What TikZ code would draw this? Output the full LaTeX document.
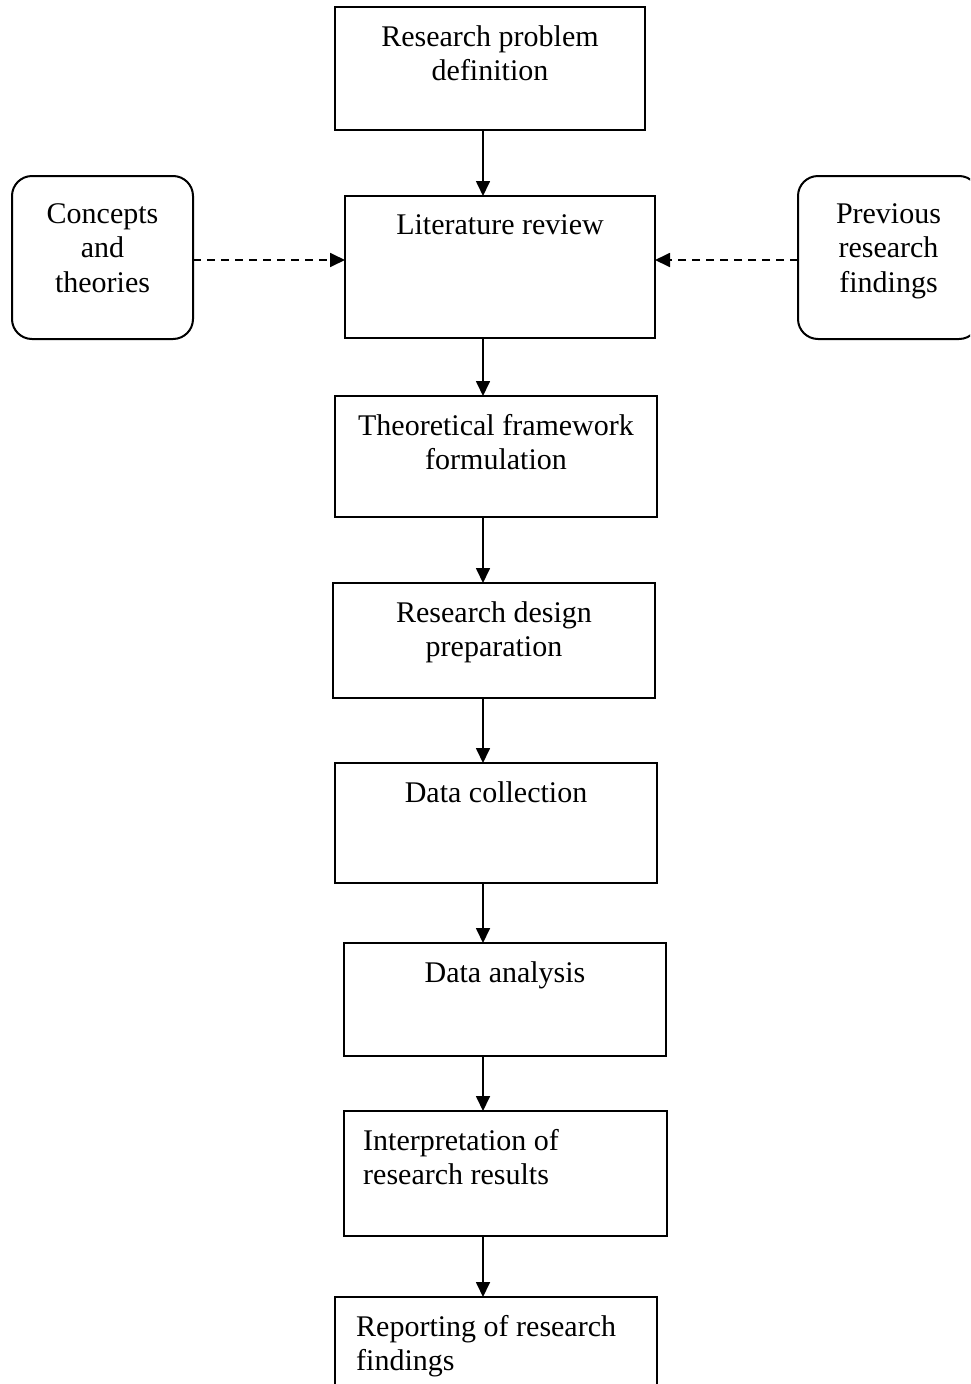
\documentclass[tikz,border=0pt]{standalone}
\usepackage{fontspec}
\setmainfont{Liberation Serif}
\usetikzlibrary{arrows.meta}
\begin{document}
\begin{tikzpicture}[x=1pt,y=-1pt]
            \tikzstyle{stepbox}=[draw,line width=2pt,inner sep=0,outer sep=0]
            \tikzstyle{sidebox}=[stepbox,rounded corners=20pt,minimum width=181pt,minimum height=163pt]
            \tikzstyle{txt}=[font=\fontsize{30}{34.5}\selectfont,inner sep=0,label distance=0pt]
            \tikzstyle{mid}=[txt,anchor=north,align=center,yshift=-18pt]
            \tikzstyle{lft}=[txt,anchor=north west,align=left,yshift=-18pt]
            \tikzstyle{flow}=[line width=1.7pt,-{Triangle[length=15pt,width=14pt]}]
            \tikzstyle{feed}=[flow,line width=1.8pt,dash pattern=on 8pt off 6pt]

            \useasboundingbox (0,0) rectangle (970,1384);
            \clip (0,0) rectangle (970,1384);
            \coordinate (axis) at (483,0);

            \node(def)[stepbox,minimum width=310pt,minimum height=123pt,label={[mid]north:Research problem\\definition}] at (490,68.5){};
            \node(lit)[stepbox,minimum width=310pt,minimum height=142pt,label={[mid]north:Literature review}] at (500,267){};
            \node(con)[sidebox,label={[mid,yshift=-9pt]north:Concepts\\and\\theories}] at (102.5,257.5){};
            \node(prev)[sidebox,label={[mid,yshift=-9pt]north:Previous\\research\\findings}] at (888.5,257.5){};
            \node(theo)[stepbox,minimum width=322pt,minimum height=121pt,label={[mid]north:Theoretical framework\\formulation}] at (496,456.5){};
            \node(des)[stepbox,minimum width=322pt,minimum height=115pt,label={[mid]north:Research design\\preparation}] at (494,640.5){};
            \node(coll)[stepbox,minimum width=322pt,minimum height=120pt,label={[mid]north:Data collection}] at (496,823){};
            \node(anal)[stepbox,minimum width=322pt,minimum height=113pt,label={[mid]north:Data analysis}] at (505,999.5){};
            \node(interp)[stepbox,minimum width=323pt,minimum height=125pt,label={[lft,xshift=19pt]north west:Interpretation of\\research results}] at (505.5,1173.5){};
            \node(rep)[stepbox,minimum width=322pt,minimum height=130pt,label={[lft,xshift=21pt]north west:Reporting of research\\findings}] at (496,1362){};

            \draw[flow] (def.south -| axis) -- (lit.north -| axis);
            \draw[flow] (lit.south -| axis) -- (theo.north -| axis);
            \draw[flow] (theo.south -| axis) -- (des.north -| axis);
            \draw[flow] (des.south -| axis) -- (coll.north -| axis);
            \draw[flow] (coll.south -| axis) -- (anal.north -| axis);
            \draw[flow] (anal.south -| axis) -- (interp.north -| axis);
            \draw[flow] (interp.south -| axis) -- (rep.north -| axis);
            \draw[feed] ([yshift=-2.5pt]con.east) -- ([yshift=-2.5pt]con.east -| lit.west);
            \draw[feed] ([yshift=-2.5pt]prev.west) -- ([yshift=-2.5pt]prev.west -| lit.east);
\end{tikzpicture}
\end{document}
